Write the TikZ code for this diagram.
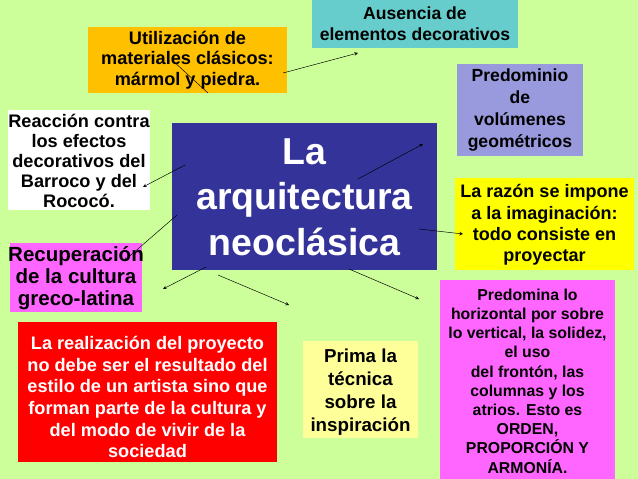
\documentclass[tikz,border=0pt]{standalone}
\usepackage{fontspec}
\setmainfont{Liberation Sans}
\definecolor{fondo}{HTML}{CCFF99}
\definecolor{azul}{HTML}{333399}
\definecolor{naranja}{HTML}{FFC000}
\definecolor{turquesa}{HTML}{66CCCC}
\definecolor{lila}{HTML}{9999DD}
\definecolor{magenta2}{HTML}{FF66FF}
\definecolor{rojo}{HTML}{FF0000}
\definecolor{amarillo}{HTML}{FFFF00}
\definecolor{crema}{HTML}{FFFF99}
\newcommand{\tam}[2]{\bfseries\fontsize{#1}{#2}\selectfont}
\tikzset{
  caja/.style={align=center,inner sep=2pt},
  flecha/.style={->,>=stealth,thin}
}
\begin{document}
\begin{tikzpicture}[x=0.03cm,y=-0.03cm]
  \fill[fondo] (0,0) rectangle (638,479);
  \useasboundingbox (0,0) rectangle (638,479);
  % cajas
  \fill[azul] (172,123) rectangle (437,270);
  \node[caja,text=white,font=\tam{32}{39}] (centro) at (304.5,197) {La\\arquitectura\\neoclásica};
  \fill[naranja] (88,27) rectangle (287,93);
  \node[caja,font=\tam{15.5}{17.4}] (mater) at (187.5,60) {Utilización de\\materiales clásicos:\\mármol y piedra.};
  \fill[turquesa] (312,0) rectangle (518,48);
  \node[caja,font=\tam{15}{18}] (ausen) at (415,24) {Ausencia de\\elementos decorativos};
  \fill[lila] (457,64) rectangle (583,156);
  \node[caja,font=\tam{15}{18.7}] (volum) at (520,110) {Predominio\\de\\volúmenes\\geométricos};
  \fill[white] (8,110) rectangle (150,210);
  \node[caja,font=\tam{15.5}{17}] (reacc) at (79,161) {Reacción contra\\los efectos\\decorativos del\\Barroco y del\\Rococó.};
  \fill[amarillo] (455,178) rectangle (634,270);
  \node[caja,font=\tam{15.4}{18.3}] (razon) at (544.5,225) {La razón se impone\\a la imaginación:\\todo consiste en\\proyectar};
  \fill[magenta2] (10,243) rectangle (142,312);
  \node[caja,font=\tam{17.5}{19}] (recup) at (76,278) {Recuperación\\de la cultura\\greco-latina};
  \fill[magenta2] (440,280) rectangle (615,479);
  \node[caja,font=\tam{13.5}{16.4}] (horiz) at (527.5,381) {Predomina lo\\horizontal por sobre\\lo vertical, la solidez,\\el uso\\del frontón, las\\columnas y los\\atrios. Esto es\\ORDEN,\\PROPORCIÓN Y\\ARMONÍA.};
  \fill[rojo] (18,322) rectangle (277,462);
  \node[caja,text=white,font=\tam{15.5}{18.5}] (reali) at (147.5,397) {La realización del proyecto\\no debe ser el resultado del\\estilo de un artista sino que\\forman parte de la cultura y\\del modo de vivir de la\\sociedad};
  \fill[crema] (303,341) rectangle (418,438);
  \node[caja,font=\tam{16}{19.5}] (tecni) at (360.5,392) {Prima la\\técnica\\sobre la\\inspiración};
  % flechas
  \coordinate (a1) at (208,93); \coordinate (b1) at (172,60);
  \coordinate (a2) at (283,73); \coordinate (b2) at (358,53);
  \coordinate (a3) at (185,165); \coordinate (b3) at (143,187);
  \coordinate (a4) at (358,179); \coordinate (b4) at (423,144);
  \coordinate (a5) at (177,215); \coordinate (b5) at (124,261);
  \coordinate (a6) at (419,229); \coordinate (b6) at (463,234);
  \coordinate (a7) at (206,267); \coordinate (b7) at (163,289);
  \coordinate (a8) at (218,275); \coordinate (b8) at (289,305);
  \coordinate (a9) at (349,269); \coordinate (b9) at (419,299);
  \foreach \i in {2,...,9} \draw[flecha] (a\i) -- (b\i);
  \draw[thin] (a1) -- (b1);
\end{tikzpicture}
\end{document}
